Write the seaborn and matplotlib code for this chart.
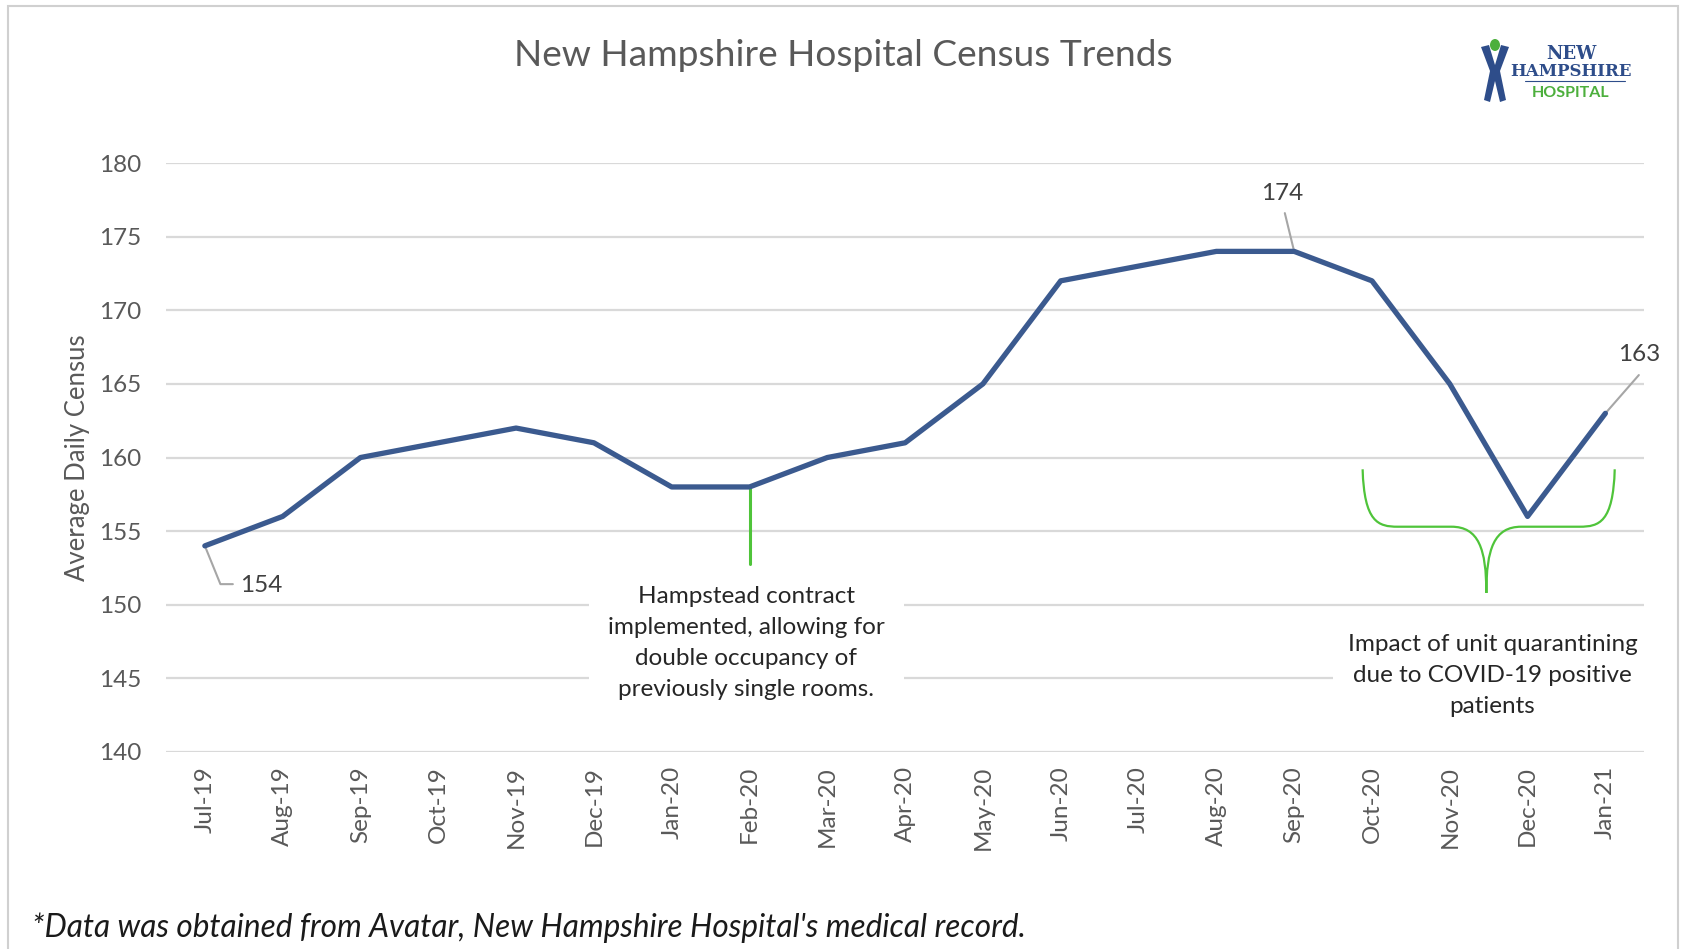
import numpy as np
import pandas as pd
import matplotlib
matplotlib.use('Agg')
import matplotlib.pyplot as plt
from matplotlib.path import Path
from matplotlib.patches import PathPatch, Rectangle, Ellipse, Polygon
import seaborn as sns

months = ['Jul-19', 'Aug-19', 'Sep-19', 'Oct-19', 'Nov-19', 'Dec-19', 'Jan-20', 'Feb-20',
          'Mar-20', 'Apr-20', 'May-20', 'Jun-20', 'Jul-20', 'Aug-20', 'Sep-20', 'Oct-20',
          'Nov-20', 'Dec-20', 'Jan-21']
census = [154, 156, 160, 161, 162, 161, 158, 158, 160, 161, 165, 172, 173, 174, 174, 172,
          165, 156, 163]
y_ticks = [140, 145, 150, 155, 160, 165, 170, 175, 180]
labelled = ['Jul-19', 'Sep-20', 'Jan-21']

sns.set_theme(style='white')
plt.rcParams['font.family'] = ['Lato', 'DejaVu Sans']

df = pd.DataFrame({'month': months, 'census': census})

fig = plt.figure(figsize=(16.83, 9.49), dpi=100)
ax = fig.add_axes([0.0986, 0.2076, 0.8784, 0.6206])

for t in y_ticks:
    ax.axhline(t, color='#d9d9d9', lw=1.6, zorder=0)

sns.lineplot(data=df, x='month', y='census', sort=False, color='#3b5a8f', lw=3.8,
             ax=ax, zorder=3)

ax.set_xlim(-0.5, len(months) - 0.5)
ax.set_ylim(140, 180)
ax.set_yticks(y_ticks)
ax.set_xticks(range(len(months)))
ax.set_xticklabels(months, rotation=90, fontsize=17.5, color='#595959')
ax.tick_params(axis='y', labelsize=17.5, labelcolor='#595959', pad=12)
ax.tick_params(axis='x', pad=4)
ax.set_xlabel('')
ax.set_ylabel('Average Daily Census', fontsize=18.5, color='#595959', labelpad=6)
for s in ax.spines.values():
    s.set_visible(False)

# data labels with leader lines
lead = '#a6a6a6'
i0 = months.index(labelled[0])
ax.plot([i0, i0 + 0.2, i0 + 0.36], [census[i0], census[i0] - 2.6, census[i0] - 2.6],
        color=lead, lw=1.5, zorder=2)
ax.text(i0 + 0.45, census[i0] - 2.7, str(census[i0]), fontsize=17.5, color='#404040',
        ha='left', va='center')
i1 = months.index(labelled[1])
ax.plot([i1, i1 - 0.12], [census[i1], census[i1] + 2.6], color=lead, lw=1.5, zorder=2)
ax.text(i1 - 0.15, census[i1] + 3.9, str(census[i1]), fontsize=17.5, color='#404040',
        ha='center', va='center')
i2 = months.index(labelled[2])
ax.plot([i2, i2 + 0.43], [census[i2], census[i2] + 2.6], color=lead, lw=1.5, zorder=2)
ax.text(i2 + 0.43, census[i2] + 4.0, str(census[i2]), fontsize=17.5, color='#404040',
        ha='center', va='center')

# Hampstead annotation
green = '#4fc43a'
fi = months.index('Feb-20')
ax.plot([fi, fi], [census[fi], 152.8], color=green, lw=2.2, zorder=2)
ax.text(fi - 0.04, 147.4, 'Hampstead contract\nimplemented, allowing for\ndouble occupancy of\n'
        'previously single rooms.', ha='center', va='center', fontsize=17.5, color='#262626',
        linespacing=1.6, zorder=4,
        bbox=dict(boxstyle='square,pad=0.8', fc='white', ec='none'))

# brace for quarantine impact
xl, xr, xm = 14.88, 18.12, 16.47
yt, yh, yb = 159.2, 155.3, 150.8
verts = [(xl, yt), (xl + 0.02, yh + 0.3), (xl + 0.2, yh), (xl + 0.45, yh),
         (xm - 0.45, yh),
         (xm - 0.1, yh), (xm, yh - 1.5), (xm, yb),
         (xm, yh - 1.5), (xm + 0.1, yh), (xm + 0.45, yh),
         (xr - 0.45, yh),
         (xr - 0.2, yh), (xr - 0.02, yh + 0.3), (xr, yt)]
codes = [Path.MOVETO, Path.CURVE4, Path.CURVE4, Path.CURVE4,
         Path.LINETO,
         Path.CURVE4, Path.CURVE4, Path.CURVE4,
         Path.CURVE4, Path.CURVE4, Path.CURVE4,
         Path.LINETO,
         Path.CURVE4, Path.CURVE4, Path.CURVE4]
ax.add_patch(PathPatch(Path(verts, codes), fc='none', ec=green, lw=1.6, zorder=2))
ax.text(16.55, 145.2, 'Impact of unit quarantining\ndue to COVID-19 positive\npatients',
        ha='center', va='center', fontsize=17.5, color='#262626', linespacing=1.6, zorder=4,
        bbox=dict(boxstyle='square,pad=0.6', fc='white', ec='none'))

fig.text(0.501, 0.941, 'New Hampshire Hospital Census Trends', ha='center', va='center',
         fontsize=26.7, color='#595959')
fig.text(0.019, 0.022, "*Data was obtained from Avatar, New Hampshire Hospital's medical record.",
         ha='left', va='center', fontsize=22.7, style='italic', color='#1a1a1a')

# logo
lx = fig.add_axes([1475 / 1683, 1 - 105 / 949, 160 / 1683, 70 / 949])
lx.set_xlim(0, 160)
lx.set_ylim(0, 70)
lx.axis('off')
lx.add_patch(Polygon([[6, 58], [14, 60], [20, 40], [26, 60], [34, 58], [25, 34], [31, 5],
                      [25, 3], [20, 24], [15, 3], [9, 5], [15, 34]],
                     closed=True, fc='#2e4d8a', ec='none'))
lx.add_patch(Ellipse((20, 60), 10, 12, fc='#4caf3c', ec='none'))
lx.text(96, 51, 'NEW', ha='center', va='center', fontsize=13, color='#2e4d8a',
        family='DejaVu Serif', weight='bold')
lx.text(96, 33, 'HAMPSHIRE', ha='center', va='center', fontsize=12, color='#2e4d8a',
        family='DejaVu Serif', weight='bold')
lx.plot([50, 150], [24, 24], color='#2e4d8a', lw=0.8)
lx.text(96, 12, 'HOSPITAL', ha='center', va='center', fontsize=11.5, color='#4caf3c',
        weight='bold')

fig.patches.append(Rectangle((0.005, -0.01), 0.992, 1.004, transform=fig.transFigure,
                             fill=False, ec='#d0d0d0', lw=1.5))

fig.savefig('out.png', dpi=100)
